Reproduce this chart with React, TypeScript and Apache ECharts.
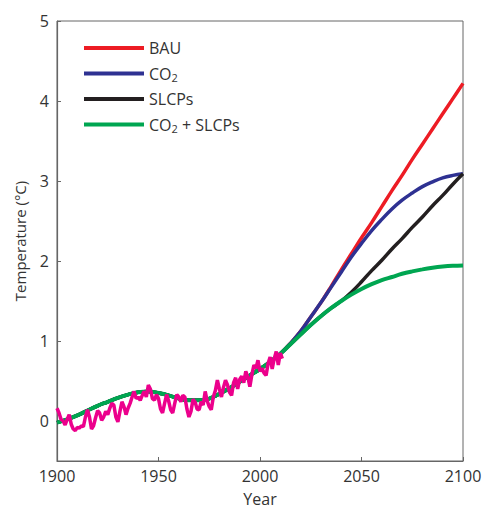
import React, { useEffect, useRef } from "react";
import * as echarts from "echarts";

const histYears = [1900, 1905, 1910, 1915, 1920, 1925, 1930, 1935, 1940, 1945, 1950, 1955, 1960, 1965, 1970, 1975, 1980, 1985, 1990, 1995, 2000, 2005];
const histModel = [-0.02, 0.02, 0.07, 0.13, 0.19, 0.24, 0.29, 0.33, 0.36, 0.37, 0.35, 0.32, 0.28, 0.26, 0.26, 0.28, 0.34, 0.41, 0.49, 0.57, 0.65, 0.74];

const projYears = [2010, 2015, 2020, 2025, 2030, 2035, 2040, 2045, 2050, 2055, 2060, 2065, 2070, 2075, 2080, 2085, 2090, 2095, 2100];
const bauProj = [0.84, 0.97, 1.12, 1.3, 1.48, 1.68, 1.89, 2.09, 2.29, 2.48, 2.68, 2.88, 3.07, 3.27, 3.46, 3.65, 3.84, 4.03, 4.22];
const co2Proj = [0.84, 0.97, 1.12, 1.3, 1.48, 1.67, 1.86, 2.05, 2.22, 2.38, 2.52, 2.65, 2.76, 2.85, 2.93, 2.99, 3.04, 3.07, 3.09];
const slcpProj = [0.84, 0.96, 1.08, 1.2, 1.31, 1.41, 1.5, 1.61, 1.74, 1.88, 2.01, 2.15, 2.28, 2.42, 2.55, 2.69, 2.82, 2.96, 3.09];
const bothProj = [0.84, 0.96, 1.08, 1.2, 1.31, 1.41, 1.5, 1.58, 1.65, 1.71, 1.76, 1.8, 1.84, 1.87, 1.895, 1.915, 1.93, 1.94, 1.945];

const obsStartYear = 1900;
const obsValues = [
  0.16, 0.1, 0.02, 0.0, -0.05, 0.02, 0.08, -0.04, -0.1, -0.12,
  -0.08, -0.09, -0.06, -0.07, 0.05, 0.14, 0.05, -0.1, -0.06, 0.04,
  0.13, 0.1, 0.01, 0.05, 0.12, 0.08, 0.16, 0.22, 0.2, 0.05,
  -0.01, 0.12, 0.24, 0.18, 0.08, 0.16, 0.22, 0.3, 0.37, 0.28,
  0.3, 0.26, 0.32, 0.37, 0.3, 0.45, 0.4, 0.28, 0.26, 0.33,
  0.28, 0.15, 0.1, 0.22, 0.33, 0.25, 0.14, 0.1, 0.22, 0.33,
  0.3, 0.24, 0.32, 0.3, 0.15, 0.05, 0.12, 0.27, 0.24, 0.15,
  0.14, 0.24, 0.2, 0.37, 0.25, 0.18, 0.14, 0.3, 0.38, 0.51,
  0.4, 0.3, 0.42, 0.51, 0.45, 0.36, 0.32, 0.48, 0.54, 0.4,
  0.52, 0.56, 0.48, 0.62, 0.55, 0.43, 0.58, 0.7, 0.66, 0.76,
  0.62, 0.66, 0.6, 0.57, 0.72, 0.8, 0.65, 0.78, 0.87, 0.7,
  0.85, 0.78,
];

const seriesNames = ["BAU", "CO2", "SLCPs", "CO2 + SLCPs"];
const seriesColors = ["#ed1c24", "#2e3192", "#231f20", "#00a651"];
const projections = [bauProj, co2Proj, slcpProj, bothProj];
const obsColor = "#ec008c";

const yTicks = [0, 1, 2, 3, 4, 5];

const FONT = "'Open Sans', 'Noto Sans', sans-serif";

function buildModel(proj: number[]) {
  const pts: [number, number][] = histYears.map((y, i) => [y, histModel[i]]);
  projYears.forEach((y, i) => pts.push([y, proj[i]]));
  return pts;
}

export default function App() {
  const ref = useRef<HTMLDivElement>(null);
  useEffect(() => {
    if (!ref.current) return;
    const chart = echarts.init(ref.current, null, { renderer: "svg" });
    const obsData = obsValues.map((v, i) => [obsStartYear + i, v]);
    const modelSeries = seriesNames.map((name, i) => ({
      name,
      type: "line",
      data: buildModel(projections[i]),
      smooth: 0.4,
      showSymbol: false,
      color: seriesColors[i],
      lineStyle: { width: i === 3 ? 4 : 3.5, color: seriesColors[i] },
      z: 2 + i,
    }));
    chart.setOption({
      animation: false,
      textStyle: { fontFamily: FONT },
      grid: {
        left: 57,
        right: 21,
        top: 21,
        bottom: 48,
        outerBoundsMode: "none",
        containLabel: false,
        show: true,
        borderColor: "#666",
        borderWidth: 1,
      },
      legend: {
        data: seriesNames,
        orient: "vertical",
        left: 79,
        top: 35,
        icon: "rect",
        itemWidth: 60,
        itemHeight: 4,
        itemGap: 8,
        formatter: (name: string) => {
          if (name === "CO2") return "{t|CO}{s|2}";
          if (name === "CO2 + SLCPs") return "{t|CO}{s|2}{t| + SLCPs}";
          return "{t|" + name + "}";
        },
        textStyle: {
          color: "#333",
          fontFamily: FONT,
          rich: {
            t: { fontSize: 16, lineHeight: 18, color: "#333", fontFamily: FONT },
            s: { fontSize: 11, lineHeight: 11, padding: [8, 0, 0, 0], color: "#333", fontFamily: FONT },
          },
        },
      },
      xAxis: {
        type: "value",
        min: 1900,
        max: 2100,
        interval: 50,
        name: "Year",
        nameLocation: "middle",
        nameGap: 30,
        nameTextStyle: { fontSize: 16, color: "#333", fontFamily: FONT },
        axisLine: { onZero: false, lineStyle: { color: "#666", width: 1.2 } },
        axisTick: { inside: true, length: 4, lineStyle: { color: "#666" } },
        axisLabel: {
          fontSize: 16,
          color: "#333",
          margin: 7,
          fontFamily: FONT,
          formatter: (v: number) => String(v),
        },
        splitLine: { show: false },
      },
      yAxis: {
        type: "value",
        min: -0.5,
        max: 5,
        name: "Temperature (°C)",
        nameLocation: "middle",
        nameGap: 30,
        nameTextStyle: { fontSize: 15, color: "#333", fontFamily: FONT },
        axisLine: { show: true, onZero: false, lineStyle: { color: "#666", width: 1.2 } },
        axisTick: { show: true, inside: true, length: 4, customValues: yTicks, lineStyle: { color: "#666" } },
        axisLabel: { fontSize: 16, color: "#333", margin: 8, customValues: yTicks, fontFamily: FONT },
        splitLine: { show: false },
      },
      series: [
        ...modelSeries,
        {
          name: "Observed",
          type: "line",
          data: obsData,
          showSymbol: false,
          color: obsColor,
          lineStyle: { width: 3.5, color: obsColor },
          z: 10,
        },
      ],
    });
    return () => chart.dispose();
  }, []);
  return (
    <div
      ref={ref}
      style={{ position: "fixed", left: 0, top: 0, width: 484, height: 509, background: "#fff" }}
    />
  );
}
